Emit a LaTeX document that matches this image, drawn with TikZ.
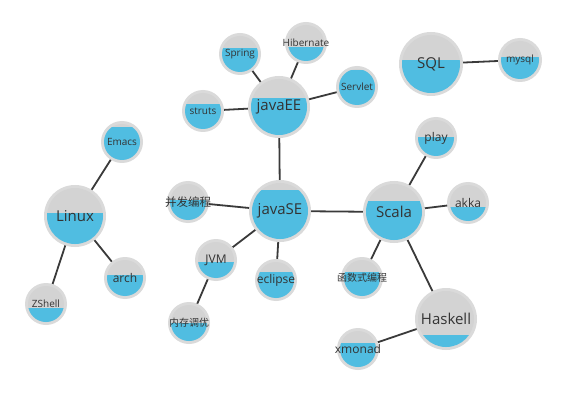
\documentclass[tikz,border=0pt]{standalone}
\usepackage{fontspec}
\setmainfont{Open Sans}
\newfontfamily\cjk{Noto Sans CJK SC}
\usetikzlibrary{backgrounds}
\definecolor{ringg}{HTML}{DADADA}
\definecolor{topg}{HTML}{D3D3D3}
\definecolor{blu}{HTML}{50BDE1}
\definecolor{txt}{HTML}{333333}
\definecolor{edge}{HTML}{3A3A3A}
\newcommand\zw[1]{\makebox[0pt]{#1}}
\tikzset{
  rad/.store in=\bubRad, rad=21,
  lvl/.store in=\bubLvl, lvl=0,
  bub/.style={circle, inner sep=0pt, minimum size=2*\bubRad pt, fill=ringg, text=txt,
    path picture={
      \fill[topg] (path picture bounding box.center) circle[radius=\bubRad pt-3pt];
      \begin{scope}
        \clip (path picture bounding box.center) circle[radius=\bubRad pt-3pt];
        \fill[blu] ([yshift=\bubLvl pt]path picture bounding box.west) rectangle (path picture bounding box.south east);
      \end{scope}}},
  big/.style={rad=31, bub, font=\fontsize{15}{18}\selectfont},
  small/.style={bub, font=\fontsize{10}{12}\selectfont},
  mid/.style={bub, font=\fontsize{12}{14}\selectfont},
  smallcjk/.style={bub, font=\cjk\fontsize{10}{12}\selectfont},
  link/.style={draw=edge, line width=1.8pt}
}
\begin{document}
\begin{tikzpicture}[x=1pt,y=-1pt]
\useasboundingbox (0,0) rectangle (575,406);
\node[lvl=9, big] (javaEE) at (279,107) {\zw{javaEE}};
\node[lvl=21, big] (javaSE) at (280,211) {\zw{javaSE}};
\node[lvl=11, big] (Scala) at (394,212) {\zw{Scala}};
\node[lvl=3, big] (Linux) at (75,216) {\zw{Linux}};
\node[lvl=-16, big] (Haskell) at (446,319) {\zw{Haskell}};
\node[lvl=4, big, rad=32] (SQL) at (431,64) {\zw{SQL}};
\node[lvl=6, small] (Spring) at (240,54) {\zw{Spring}};
\node[lvl=-4, small] (Hibernate) at (306,43) {\zw{Hibernate}};
\node[lvl=17, small] (Servlet) at (357,87) {\zw{Servlet}};
\node[lvl=7, small] (struts) at (203,111) {\zw{struts}};
\node[lvl=15, small] (Emacs) at (122,142) {\zw{Emacs}};
\node[lvl=3, mid] (arch) at (125,278) {\zw{arch}};
\node[lvl=-4, small] (ZShell) at (46,304) {\zw{ZShell}};
\node[lvl=2, smallcjk, font=\cjk\fontsize{11.5}{13}\selectfont] (bf) at (188,202) {\zw{并发编程}};
\node[lvl=-2, mid] (JVM) at (216,260) {\zw{JVM}};
\node[lvl=8, mid] (eclipse) at (276,280) {\zw{eclipse}};
\node[lvl=0, smallcjk] (nc) at (189,323) {\zw{内存调优}};
\node[lvl=1, mid] (play) at (436,138) {\zw{play}};
\node[lvl=-4, mid] (akka) at (468,203) {\zw{akka}};
\node[lvl=6, smallcjk] (hs) at (362,278) {\zw{函数式编程}};
\node[lvl=6, mid] (xmonad) at (358,349) {\zw{xmonad}};
\node[lvl=3, small, rad=22] (mysql) at (520,60) {\zw{mysql}};
\begin{scope}[on background layer]
\fill[white] (0,0) rectangle (575,406);
\draw[link] (javaEE.center) -- (Spring.center);
\draw[link] (javaEE.center) -- (Hibernate.center);
\draw[link] (javaEE.center) -- (Servlet.center);
\draw[link] (javaEE.center) -- (struts.center);
\draw[link] (javaEE.center) -- (javaSE.center);
\draw[link] (javaSE.center) -- (bf.center);
\draw[link] (javaSE.center) -- (JVM.center);
\draw[link] (javaSE.center) -- (eclipse.center);
\draw[link] (javaSE.center) -- (Scala.center);
\draw[link] (JVM.center) -- (nc.center);
\draw[link] (Scala.center) -- (play.center);
\draw[link] (Scala.center) -- (akka.center);
\draw[link] (Scala.center) -- (hs.center);
\draw[link] (Scala.center) -- (Haskell.center);
\draw[link] (Haskell.center) -- (xmonad.center);
\draw[link] (Linux.center) -- (Emacs.center);
\draw[link] (Linux.center) -- (arch.center);
\draw[link] (Linux.center) -- (ZShell.center);
\draw[link] (SQL.center) -- (mysql.center);
\end{scope}
\end{tikzpicture}
\end{document}
